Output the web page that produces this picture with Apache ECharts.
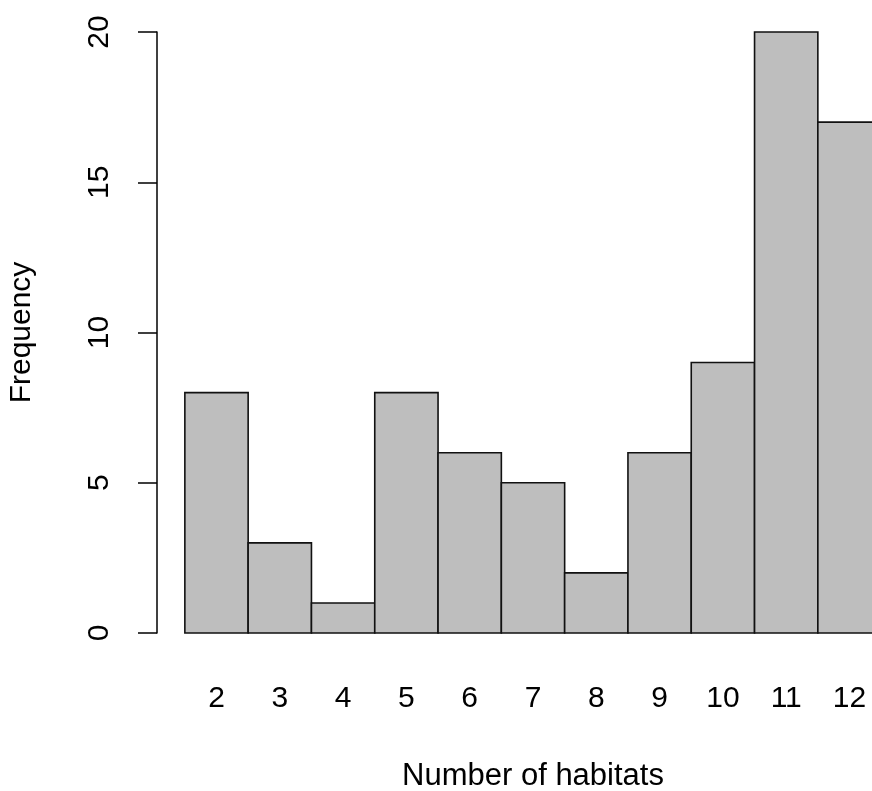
<!DOCTYPE html>
<html>
<head>
<meta charset="utf-8">
<title>Number of habitats</title>
<script src="https://cdn.jsdelivr.net/npm/echarts@6/dist/echarts.min.js"></script>
<style>
  html, body { margin: 0; padding: 0; background: #fff; }
  #chart { width: 872px; height: 791px; }
</style>
</head>
<body>
<div id="chart"></div>
<script>
// histogram data
const habitats = [2, 3, 4, 5, 6, 7, 8, 9, 10, 11, 12];
const frequency = [8, 3, 1, 8, 6, 5, 2, 6, 9, 20, 17];
const yTicks = [0, 5, 10, 15, 20];

const chart = echarts.init(document.getElementById('chart'));
const font = '"Liberation Sans", Arial, sans-serif';

const option = {
  backgroundColor: '#fff',
  animation: false,
  textStyle: { fontFamily: font },
  grid: {
    left: 157,
    right: -37, // the plot is cut off on the right side
    top: 32,
    bottom: 158,
    outerBoundsMode: 'none'
  },
  xAxis: {
    type: 'value',
    min: 1.06,
    max: 12.94,
    name: 'Number of habitats',
    nameLocation: 'middle',
    nameGap: 128,
    nameTextStyle: { fontSize: 31, color: '#000', fontFamily: font },
    axisLine: { show: false },
    axisTick: { show: false },
    splitLine: { show: false },
    axisLabel: {
      customValues: habitats,
      fontSize: 30,
      color: '#000',
      margin: 51,
      fontFamily: font
    }
  },
  yAxis: {
    type: 'value',
    min: yTicks[0],
    max: yTicks[yTicks.length - 1],
    interval: 5,
    name: 'Frequency',
    nameLocation: 'middle',
    nameGap: 120,
    nameTextStyle: { fontSize: 30, color: '#000', fontFamily: font },
    axisLine: { show: true, lineStyle: { color: '#000', width: 1.5 } },
    axisTick: { show: true, length: 19, lineStyle: { color: '#000', width: 1.5 } },
    splitLine: { show: false },
    axisLabel: {
      rotate: 90,
      align: 'center',
      verticalAlign: 'bottom',
      fontSize: 30,
      color: '#000',
      margin: 42,
      fontFamily: font
    }
  },
  series: [{
    type: 'custom',
    data: habitats.map((h, i) => [h, frequency[i]]),
    encode: { x: 0, y: 1 },
    renderItem: function (params, api) {
      const x = api.value(0);
      const y = api.value(1);
      const p0 = api.coord([x - 0.5, 0]);
      const p1 = api.coord([x + 0.5, y]);
      return {
        type: 'rect',
        shape: {
          x: p0[0],
          y: p1[1],
          width: p1[0] - p0[0],
          height: p0[1] - p1[1]
        },
        style: {
          fill: '#bebebe',
          stroke: '#111',
          lineWidth: 1.6
        }
      };
    }
  }]
};

chart.setOption(option);
</script>
</body>
</html>
